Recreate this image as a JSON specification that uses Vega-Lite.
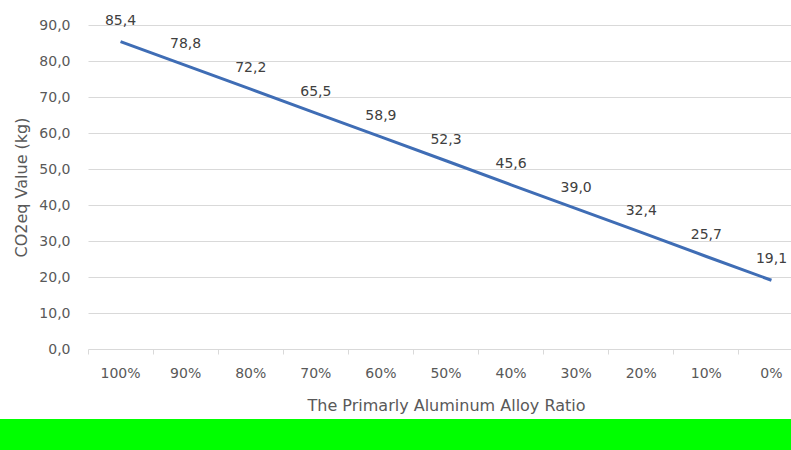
{
  "$schema": "https://vega.github.io/schema/vega-lite/v6.json",
  "padding": {"left": 0, "top": 13, "right": 0, "bottom": 0},
  "spacing": 6,
  "center": true,
  "config": {
    "locale": {"number": {"decimal": ",", "thousands": ".", "grouping": [3], "currency": ["", " €"]}},
    "font": "DejaVu Sans",
    "view": {"stroke": null}
  },
  "vconcat": [
    {
      "width": 716,
      "height": 324,
      "data": {"values": [
        {"ratio": "100%", "co2": 85.4},
        {"ratio": "90%", "co2": 78.8},
        {"ratio": "80%", "co2": 72.2},
        {"ratio": "70%", "co2": 65.5},
        {"ratio": "60%", "co2": 58.9},
        {"ratio": "50%", "co2": 52.3},
        {"ratio": "40%", "co2": 45.6},
        {"ratio": "30%", "co2": 39.0},
        {"ratio": "20%", "co2": 32.4},
        {"ratio": "10%", "co2": 25.7},
        {"ratio": "0%", "co2": 19.1}
      ]},
      "encoding": {
        "x": {
          "field": "ratio", "type": "ordinal", "sort": null,
          "scale": {"type": "band", "paddingInner": 0, "paddingOuter": 0},
          "axis": {
            "title": "The Primarly Aluminum Alloy Ratio",
            "labelAngle": 0, "domain": false, "ticks": true, "tickColor": "#d9d9d9", "tickSize": 5,
            "bandPosition": 0, "grid": false,
            "labelPadding": 12, "labelFontSize": 14, "labelColor": "#595959",
            "titleFontSize": 16, "titleFontWeight": "normal", "titleColor": "#595959", "titlePadding": 17
          }
        },
        "y": {
          "field": "co2", "type": "quantitative",
          "scale": {"domain": [0, 90], "nice": false},
          "axis": {
            "title": "CO2eq Value (kg)",
            "values": [0, 10, 20, 30, 40, 50, 60, 70, 80, 90], "format": ".1f",
            "domain": false, "ticks": false, "grid": true, "gridColor": "#d9d9d9", "gridWidth": 1,
            "labelPadding": 18, "labelFontSize": 14, "labelColor": "#595959",
            "titleFontSize": 16, "titleFontWeight": "normal", "titleColor": "#595959", "titlePadding": 9
          }
        }
      },
      "layer": [
        {"mark": {"type": "line", "color": "#3F6DB5", "strokeWidth": 3}},
        {
          "mark": {"type": "text", "dy": -17, "baseline": "alphabetic", "fontSize": 14, "color": "#404040"},
          "encoding": {"text": {"field": "co2", "type": "quantitative", "format": ".1f"}}
        }
      ]
    },
    {
      "width": 892,
      "height": 32,
      "view": {"fill": "#00ff00", "stroke": null},
      "data": {"values": [{}]},
      "mark": {"type": "point", "opacity": 0, "size": 1},
      "encoding": {}
    }
  ]
}
